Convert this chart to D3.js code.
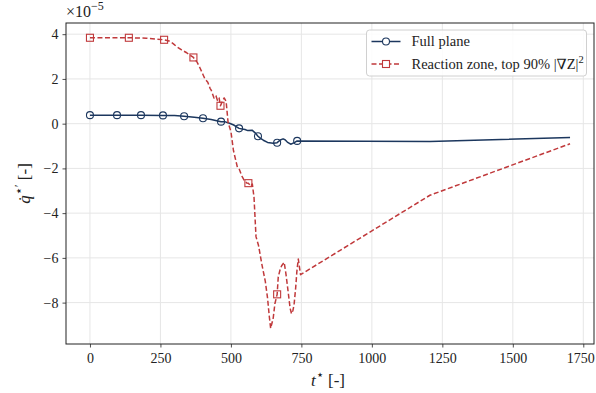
<!DOCTYPE html>
<html>
<head>
<meta charset="utf-8">
<script src="https://cdn.jsdelivr.net/npm/d3@7"></script>
<style>
  body { margin: 0; background: #fff; }
  text { font-family: "Liberation Serif", "DejaVu Serif", serif; fill: #222; }
</style>
</head>
<body>
<script>
// data (y in units of 1e-5)
var fullT = [0, 96, 181, 259, 300, 334, 370, 401, 430, 465, 480, 495, 510, 520, 529, 540, 550, 560, 575, 585, 596, 605, 615, 630, 650, 664, 675, 685, 692, 700, 712, 725, 735, 1206, 1703];
var fullQ = [0.38, 0.38, 0.38, 0.37, 0.36, 0.33, 0.29, 0.24, 0.19, 0.09, 0.08, 0.02, -0.06, -0.14, -0.21, -0.24, -0.26, -0.31, -0.29, -0.40, -0.56, -0.66, -0.74, -0.84, -0.88, -0.85, -0.73, -0.68, -0.72, -0.82, -0.92, -0.85, -0.77, -0.80, -0.62];
var fullMarks = [0, 96, 181, 259, 334, 401, 465, 529, 596, 664, 735];

var rzT = [0, 138, 200, 263, 280, 295, 307, 325, 343, 367, 380, 390, 400, 408, 418, 426, 430, 440, 447, 452, 458, 463, 468, 476, 483, 490, 500, 509, 523, 530, 539, 548, 556, 562, 570, 576, 582, 589, 598, 610, 622, 630, 636, 641, 646, 650, 656, 664, 668, 675, 680, 689, 695, 700, 710, 715, 720, 724, 730, 734, 739, 747, 1206, 1703];
var rzQ = [3.84, 3.84, 3.82, 3.75, 3.70, 3.58, 3.45, 3.30, 3.17, 2.96, 2.75, 2.50, 2.22, 2.00, 1.85, 1.58, 1.50, 1.15, 1.25, 1.05, 1.15, 0.80, 0.95, 1.15, 1.00, 0.05, -0.35, -1.20, -1.95, -2.05, -2.35, -2.55, -2.65, -2.66, -2.80, -2.70, -3.30, -5.05, -5.45, -6.30, -7.05, -7.80, -8.60, -9.15, -8.90, -8.70, -8.05, -7.63, -6.85, -6.50, -6.35, -6.20, -6.70, -7.20, -8.25, -8.50, -8.35, -8.10, -7.30, -6.60, -6.05, -6.75, -3.20, -0.90];
var rzMarks = [0, 138, 263, 367, 463, 562, 664];

var xTicks = [0, 250, 500, 750, 1000, 1250, 1500, 1750];
var yTicks = [-8, -6, -4, -2, 0, 2, 4];
var seriesNames = ["Full plane", "Reaction zone, top 90% |\u2207Z|"];

var margin = { top: 23, right: 2, bottom: 49, left: 66 },
    width = 596 - margin.left - margin.right,
    height = 393 - margin.top - margin.bottom;

var blue = "#1c375e", red = "#c0393b";
var serif = "'Liberation Serif', 'DejaVu Serif', serif";

var svg = d3.select("body").append("svg")
    .attr("width", 596)
    .attr("height", 393)
  .append("g")
    .attr("transform", "translate(" + margin.left + "," + margin.top + ")");

var xScale = d3.scaleLinear().domain([-85, 1788]).range([0, width]);
var yScale = d3.scaleLinear().domain([-9.85, 4.5]).range([height, 0]);

// grid
svg.append("g").selectAll("line").data(xTicks).enter().append("line")
    .attr("x1", function (d) { return xScale(d); }).attr("x2", function (d) { return xScale(d); })
    .attr("y1", 0).attr("y2", height)
    .attr("stroke", "#e6e6e6").attr("stroke-width", 1);
svg.append("g").selectAll("line").data(yTicks).enter().append("line")
    .attr("y1", function (d) { return yScale(d); }).attr("y2", function (d) { return yScale(d); })
    .attr("x1", 0).attr("x2", width)
    .attr("stroke", "#e6e6e6").attr("stroke-width", 1);

// axes
var fmt = function (d) { return d < 0 ? "\u2212" + Math.abs(d) : "" + d; };
var xAxis = svg.append("g")
    .attr("transform", "translate(0," + height + ")")
    .call(d3.axisBottom(xScale).tickValues(xTicks).tickSize(3.5).tickPadding(4).tickFormat(fmt));
var yAxis = svg.append("g")
    .call(d3.axisLeft(yScale).tickValues(yTicks).tickSize(3.5).tickPadding(4).tickFormat(fmt));
[xAxis, yAxis].forEach(function (a) {
    a.attr("font-family", serif).attr("font-size", 14);
    a.select(".domain").remove();
    a.selectAll("line").attr("stroke", "#222").attr("stroke-width", 0.8);
    a.selectAll("text").attr("fill", "#222");
});
xAxis.selectAll("text").attr("dy", "0.8em");
// last label sits right at the edge of the figure
xAxis.selectAll("text").filter(function (d) { return d === 1750; }).attr("x", -3);

// lines
var line = d3.line()
    .x(function (d) { return xScale(d[0]); })
    .y(function (d) { return yScale(d[1]); });

var fullData = fullT.map(function (t, i) { return [t, fullQ[i]]; });
var rzData = rzT.map(function (t, i) { return [t, rzQ[i]]; });

svg.append("path").datum(fullData).attr("d", line)
    .attr("fill", "none").attr("stroke", blue).attr("stroke-width", 1.5)
    .attr("stroke-linejoin", "round");
svg.append("path").datum(rzData).attr("d", line)
    .attr("fill", "none").attr("stroke", red).attr("stroke-width", 1.5)
    .attr("stroke-linejoin", "round")
    .attr("stroke-dasharray", "5,2.5");

svg.append("g").selectAll("circle")
    .data(fullData.filter(function (d) { return fullMarks.indexOf(d[0]) >= 0; }))
    .enter().append("circle")
    .attr("cx", function (d) { return xScale(d[0]); })
    .attr("cy", function (d) { return yScale(d[1]); })
    .attr("r", 3.5)
    .attr("fill", "none").attr("stroke", blue).attr("stroke-width", 1.1);

svg.append("g").selectAll("rect")
    .data(rzData.filter(function (d) { return rzMarks.indexOf(d[0]) >= 0; }))
    .enter().append("rect")
    .attr("x", function (d) { return xScale(d[0]) - 3.5; })
    .attr("y", function (d) { return yScale(d[1]) - 3.5; })
    .attr("width", 7).attr("height", 7)
    .attr("fill", "none").attr("stroke", red).attr("stroke-width", 1.1);

// frame
svg.append("rect").attr("width", width).attr("height", height)
    .attr("fill", "none").attr("stroke", "#222").attr("stroke-width", 1);

// offset text
var off = svg.append("text").attr("x", 0).attr("y", -6).style("font-size", "16px");
off.append("tspan").text("\u00d710");
off.append("tspan").attr("dy", -7).style("font-size", "12px").text("\u22125");

// axis labels
var xl = svg.append("text")
    .attr("x", width / 2 - 2).attr("y", height + 42)
    .attr("text-anchor", "middle").style("font-size", "17px");
xl.append("tspan").style("font-style", "italic").text("t");
xl.append("tspan").attr("dy", -7).style("font-size", "13px").text("\u22c6");
xl.append("tspan").attr("dy", 7).text(" [-]");

var yl = svg.append("text")
    .attr("transform", "translate(-36," + (height / 2) + ") rotate(-90)")
    .attr("text-anchor", "middle").style("font-size", "17px");
yl.append("tspan").style("font-style", "italic").text("q\u0307");
yl.append("tspan").attr("dy", -7).style("font-size", "13px").text("\u22c6\u2032");
yl.append("tspan").attr("dy", 7).text(" [-]");

// legend
var lg = svg.append("g").attr("transform", "translate(" + (366.5 - margin.left) + "," + (30 - margin.top) + ")");
lg.append("rect").attr("width", 220).attr("height", 46).attr("rx", 3)
    .attr("fill", "#fff").attr("fill-opacity", 0.85).attr("stroke", "#d0d0d0").attr("stroke-width", 1);
var rows = [
    { name: seriesNames[0], color: blue, dash: null, mark: "circle" },
    { name: seriesNames[1], color: red, dash: "5,2.5", mark: "rect" }
];
rows.forEach(function (r, i) {
    var y = 11.5 + i * 22.5;
    lg.append("line").attr("x1", 5).attr("x2", 34).attr("y1", y).attr("y2", y)
        .attr("stroke", r.color).attr("stroke-width", 1.5).attr("stroke-dasharray", r.dash);
    if (r.mark === "circle") {
        lg.append("circle").attr("cx", 19.5).attr("cy", y).attr("r", 3.5)
            .attr("fill", "#fff").attr("stroke", r.color).attr("stroke-width", 1.1);
    } else {
        lg.append("rect").attr("x", 16).attr("y", y - 3.5).attr("width", 7).attr("height", 7)
            .attr("fill", "#fff").attr("stroke", r.color).attr("stroke-width", 1.1);
    }
    var t = lg.append("text").attr("x", 45).attr("y", y + 4.5).style("font-size", "14.5px").text(r.name);
    if (i === 1) t.append("tspan").attr("dy", -6).style("font-size", "10.5px").text("2");
});
</script>
</body>
</html>
